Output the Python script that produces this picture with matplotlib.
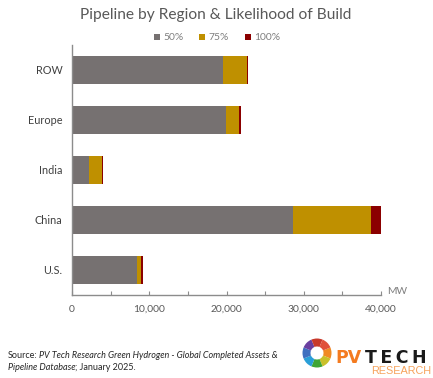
import matplotlib
matplotlib.use("Agg")
from matplotlib import pyplot as plt
from matplotlib.patches import Wedge
from matplotlib.ticker import FuncFormatter, MultipleLocator

regions = ["U.S.", "China", "India", "Europe", "ROW"]
likely_50 = [8400, 28600, 2200, 19900, 19550]
likely_75 = [550, 10100, 1640, 1700, 3150]
likely_100 = [200, 1300, 170, 300, 100]
series_names = ["50%", "75%", "100%"]
series_colors = ["#767171", "#BF9000", "#8B0000"]
ticks = [0, 10000, 20000, 30000, 40000]
# ring colours clockwise from the right hand side
logo_colors = ["#F08A24", "#C9C02A", "#3FA535", "#2A9FD8", "#3F6FBF", "#6A3FA0", "#C8392B", "#E0503A"]

W, H = 433, 378
plt.rcParams["font.family"] = ["Lato", "DejaVu Sans"]
fig = plt.figure(figsize=(W / 100, H / 100), dpi=100)
ax = fig.add_axes([72 / W, 1 - 295 / H, 309 / W, 250 / H])

# stacked bars
left = [0] * len(regions)
for vals, name, col in zip([likely_50, likely_75, likely_100], series_names, series_colors):
    ax.barh(regions, vals, left=left, height=0.56, color=col, label=name)
    left = [a + b for a, b in zip(left, vals)]

ax.set_xlim(0, 40000)
ax.set_ylim(-0.5, 4.5)
for s in ["top", "right"]:
    ax.spines[s].set_visible(False)
for s in ["left", "bottom"]:
    ax.spines[s].set_color("#8C8C8C")
    ax.spines[s].set_linewidth(1.0)
ax.set_xticks(ticks)
ax.xaxis.set_minor_locator(MultipleLocator(5000))
ax.xaxis.set_major_formatter(FuncFormatter(lambda v, p: f"{int(v):,}"))
ax.tick_params(axis="x", which="both", direction="in", length=3, width=0.8, color="#8C8C8C",
               labelsize=7.4, labelcolor="#595959", pad=7)
ax.tick_params(axis="y", length=0, labelsize=7.8, labelcolor="#404040", pad=7)

fig.text(387 / W, 1 - 292 / H, "MW", fontsize=7.4, color="#7F7F7F", va="center")

fig.text(216 / W, 1 - 15 / H, "Pipeline by Region & Likelihood of Build", ha="center", va="center",
         fontsize=11.2, color="#595959")
ax.legend(loc="center", bbox_to_anchor=(217 / W, 1 - 38 / H), bbox_transform=fig.transFigure, ncol=3,
          frameon=False, fontsize=7.4, labelcolor="#7F7F7F", handlelength=0.6, handleheight=0.6,
          handletextpad=0.35, columnspacing=1.5)

# source note, plain and italic pieces side by side
note = dict(fontsize=6.5, color="#262626", va="center")
fig.text(8 / W, 1 - 356 / H, "Source:", **note)
fig.text(39 / W, 1 - 356 / H, "PV Tech Research Green Hydrogen - Global Completed Assets &", style="italic", **note)
fig.text(8 / W, 1 - 367 / H, "Pipeline Database", style="italic", **note)
fig.text(75 / W, 1 - 367 / H, "; January 2025.", **note)

# logo
logo = fig.add_axes([0, 0, 1, 1], facecolor="none")
logo.set_xlim(0, W)
logo.set_ylim(H, 0)
logo.axis("off")
for i, c in enumerate(logo_colors):
    logo.add_patch(Wedge((317, 353), 14.5, i * 45 - 22.5, i * 45 + 22.5, width=8, color=c, lw=0))
logo.text(335, 363, "PV", fontsize=12.5, fontweight="bold", color="#F47B20", va="baseline", family="DejaVu Sans")
logo.text(365, 363, "T\u2009E\u2009C\u2009H", fontsize=12.5, fontweight="bold", color="#1A1A1A", va="baseline",
          family="DejaVu Sans")
logo.text(371, 373.5, "RESEARCH", fontsize=7.8, color="#F7A35C", va="baseline", family="Liberation Sans")

fig.savefig("out.png", dpi=100)
